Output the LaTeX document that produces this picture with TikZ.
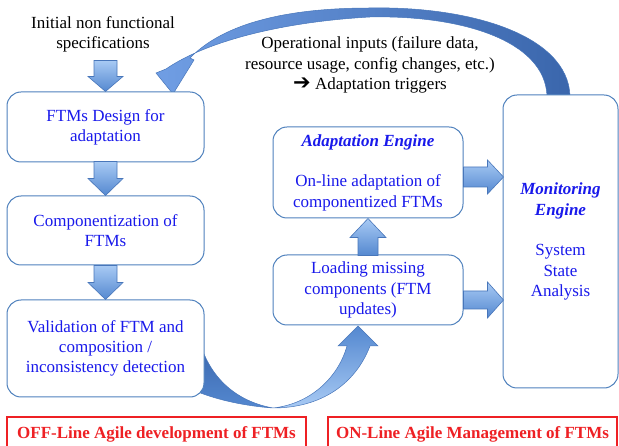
\documentclass[tikz,border=0pt]{standalone}
\usepackage{fontspec}
\setmainfont{Liberation Serif}
\newfontfamily\arrowsym{DejaVu Sans}
\usetikzlibrary{calc,backgrounds}
\definecolor{boxedge}{RGB}{79,129,189}
\definecolor{ftmblue}{RGB}{25,25,235}
\definecolor{phasered}{RGB}{238,32,36}
\definecolor{arrowlight}{RGB}{168,202,244}
\definecolor{arrowdark}{RGB}{84,136,208}
\definecolor{arrowedge}{RGB}{72,118,186}
\definecolor{loopdark}{RGB}{58,102,172}
\definecolor{looplight}{RGB}{112,158,228}
\newcommand{\ftmfont}{\fontsize{17}{20.3}\selectfont}
\begin{document}
\begin{tikzpicture}[x=1pt,y=-1pt]
  \tikzstyle{ftmbox}=[draw=boxedge, line width=1pt, rounded corners=14pt, fill=white, text=ftmblue, align=center, font=\ftmfont, inner sep=0pt]
  \tikzstyle{phasebox}=[draw=phasered, line width=1.2pt, text=phasered, font=\ftmfont\bfseries, inner sep=0pt, minimum height=34]
  \tikzstyle{plaintext}=[align=center, font=\ftmfont, inner sep=0pt]
  \tikzstyle{blockarrow}=[draw=arrowedge, line width=0.6pt, top color=arrowlight, bottom color=arrowdark]
  \useasboundingbox (0,0) rectangle (619,446);

  % Node definitions
  \node[plaintext] (initspec) at (103,34) {Initial non functional\\specifications};
  \node[plaintext] (opinputs) at (370,65) {Operational inputs (failure data,\\resource usage, config changes, etc.)\\{\arrowsym\bfseries\fontsize{21}{20}\selectfont ➔} Adaptation triggers};
  \node[ftmbox, minimum width=197, minimum height=70] (ftmdesign) at (105.5,127) {FTMs Design for\\adaptation};
  \node[ftmbox, minimum width=197, minimum height=69] (compo) at (105.5,230.5) {Componentization of\\FTMs};
  \node[ftmbox, minimum width=197, minimum height=97] (valid) at (105.5,348.5) {Validation of FTM and\\composition /\\inconsistency detection};
  \node[ftmbox, minimum width=190, minimum height=91] (adapt) at (368,172.5) {\textbf{\textit{Adaptation Engine}}\\[20.3pt]On-line adaptation of\\componentized FTMs};
  \node[ftmbox, minimum width=190, minimum height=70] (loading) at (368,290) {Loading missing\\components (FTM\\updates)};
  \node[ftmbox, minimum width=115, minimum height=293] (monitor) at (560.5,241.5) {\textbf{\textit{Monitoring}}\\\textbf{\textit{Engine}}\\[20.3pt]System\\State\\Analysis};
  \node[phasebox, minimum width=299] (offline) at (156.5,434) {OFF-Line Agile development of FTMs};
  \node[phasebox, minimum width=289] (online) at (472.5,434) {ON-Line Agile Management of FTMs};

  % Block arrows between the boxes
  \draw[blockarrow] (ftmdesign.north) -- ++(-17.5,-15) -- ++(6,0) -- ++(0,-16) -- ++(23,0) -- ++(0,16) -- ++(6,0) -- cycle;
  \draw[blockarrow] (compo.north) -- ++(-17.5,-17) -- ++(6,0) -- ++(0,-17) -- ++(23,0) -- ++(0,17) -- ++(6,0) -- cycle;
  \draw[blockarrow] (valid.north) -- ++(-17.5,-17) -- ++(6,0) -- ++(0,-17) -- ++(23,0) -- ++(0,17) -- ++(6,0) -- cycle;
  \draw[blockarrow] (adapt.south) -- ++(18,19) -- ++(-8,0) -- ++(0,18) -- ++(-20,0) -- ++(0,-18) -- ++(-8,0) -- cycle;
  \draw[blockarrow] ($(adapt.east)+(0,-5.5)$) -- ++(24,0) -- ++(0,-7) -- ++(16,17) -- ++(-16,17) -- ++(0,-7) -- ++(-24,0) -- cycle;
  \draw[blockarrow] ($(loading.east)+(0,1)$) -- ++(24,0) -- ++(0,-9) -- ++(16,18) -- ++(-16,18) -- ++(0,-9) -- ++(-24,0) -- cycle;

  % Curved arrows behind the boxes
  \begin{pgfonlayer}{background}
    \draw[draw=arrowedge, line width=0.5pt, left color=looplight, right color=loopdark]
      (570,96) .. controls (568,35) and (470,6) .. (370,8)
      .. controls (290,8) and (225,22) .. (190,58) -- (194,60) -- (173,94) -- (156,73) -- (166,69)
      .. controls (205,42) and (280,22) .. (370,17)
      .. controls (460,15) and (545,40) .. (547,96) -- cycle;
    \draw[draw=arrowedge, line width=0.5pt, top color=loopdark, bottom color=arrowdark]
      (200,343) .. controls (212,382) and (240,402) .. (273,408)
      .. controls (245,406) and (218,400) .. (198,392) -- cycle;
    \draw[draw=arrowedge, line width=0.5pt, top color=arrowdark, bottom color=arrowlight]
      (273,408) .. controls (320,408) and (355,385) .. (370,346) -- (378,346) -- (358,326) -- (338,346) -- (347,346)
      .. controls (338,378) and (310,404) .. (273,408) -- cycle;
  \end{pgfonlayer}
\end{tikzpicture}
\end{document}
